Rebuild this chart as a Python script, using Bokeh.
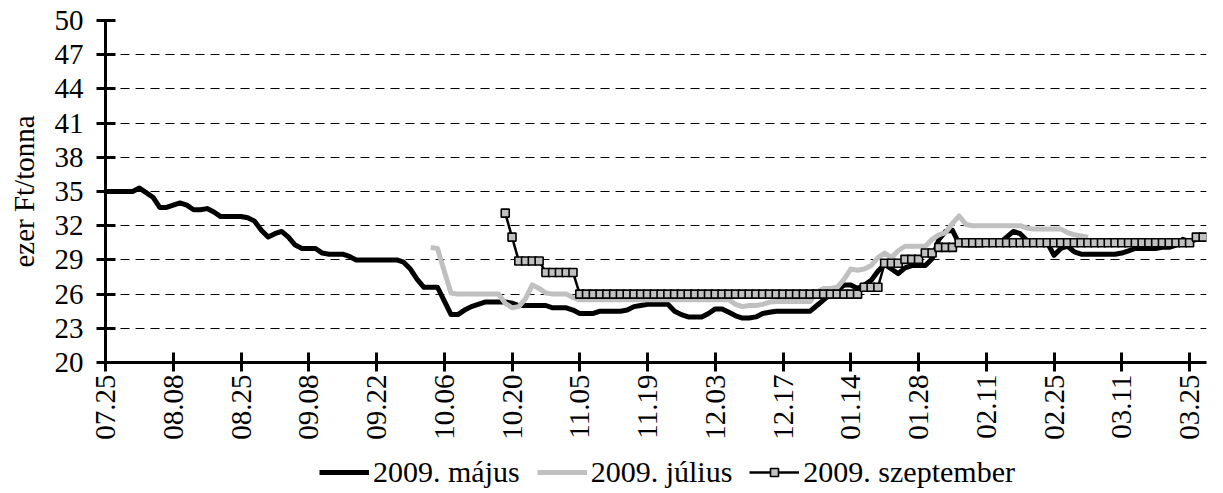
from math import pi
from bokeh.plotting import figure
from bokeh.layouts import column
from bokeh.models import Range1d, FixedTicker, Legend, LegendItem
from bokeh.embed import file_html
from bokeh.resources import INLINE

# x positions are trading-day indices; a label every 10 trading days
tick_positions = [0, 10, 20, 30, 40, 50, 60, 70, 80, 90, 100, 110, 120, 130, 140, 150, 160]
tick_labels = ["07.25", "08.08", "08.25", "09.08", "09.22", "10.06", "10.20", "11.05", "11.19",
               "12.03", "12.17", "01.14", "01.28", "02.11", "02.25", "03.11", "03.25"]
y_ticks = [20, 23, 26, 29, 32, 35, 38, 41, 44, 47, 50]

names = ["2009. május", "2009. július", "2009. szeptember"]

majus_start = 0
majus = [35.0, 35.0, 35.0, 35.0, 35.0, 35.3, 34.9, 34.5, 33.6, 33.6,
         33.8, 34.0, 33.8, 33.4, 33.4, 33.5, 33.2, 32.8, 32.8, 32.8,
         32.8, 32.7, 32.4, 31.6, 31.0, 31.3, 31.5, 31.0, 30.3, 30.0,
         30.0, 30.0, 29.6, 29.5, 29.5, 29.5, 29.3, 29.0, 29.0, 29.0,
         29.0, 29.0, 29.0, 29.0, 28.8, 28.2, 27.3, 26.6, 26.6, 26.6,
         25.4, 24.2, 24.2, 24.6, 24.9, 25.1, 25.3, 25.3, 25.3, 25.3,
         25.2, 25.0, 25.0, 25.0, 25.0, 25.0, 24.8, 24.8, 24.8, 24.6,
         24.3, 24.3, 24.3, 24.5, 24.5, 24.5, 24.5, 24.6, 24.9, 25.0,
         25.1, 25.1, 25.1, 25.1, 24.5, 24.2, 24.0, 24.0, 24.0, 24.3,
         24.7, 24.7, 24.4, 24.1, 23.9, 23.9, 24.0, 24.3, 24.4, 24.5,
         24.5, 24.5, 24.5, 24.5, 24.5, 25.0, 25.5, 26.0, 26.3, 26.8,
         26.8, 26.5, 26.8, 27.2, 28.0, 28.6, 28.2, 27.8, 28.3, 28.5,
         28.5, 28.5, 29.1, 30.8, 31.5, 31.6, 30.4, 30.3, 30.3, 30.3,
         30.4, 30.5, 30.5, 31.0, 31.5, 31.3, 30.7, 30.5, 30.5, 30.5,
         29.4, 30.0, 30.2, 29.7, 29.5, 29.5, 29.5, 29.5, 29.5, 29.5,
         29.6, 29.8, 30.0, 30.0, 30.0, 30.0, 30.1, 30.1, 30.3, 30.8,
         30.6, 30.8, 31.0]

julius_start = 48
julius = [30.1, 30.0, 28.0, 26.1, 26.0, 26.0, 26.0, 26.0, 26.0, 26.0,
          26.0, 25.2, 24.8, 24.9, 25.6, 26.8, 26.5, 26.1, 26.0, 26.0,
          26.0, 25.7, 25.5, 25.5, 25.5, 25.5, 25.5, 25.5, 25.5, 25.5,
          25.5, 25.5, 25.5, 25.5, 25.5, 25.5, 25.5, 25.5, 25.5, 25.5,
          25.5, 25.5, 25.5, 25.5, 25.5, 25.1, 24.9, 25.0, 25.0, 25.1,
          25.3, 25.35, 25.35, 25.35, 25.35, 25.35, 25.35, 26.2, 26.5, 26.5,
          26.6, 27.3, 28.2, 28.1, 28.2, 28.5, 29.2, 29.6, 29.2, 29.8,
          30.2, 30.2, 30.2, 30.2, 30.8, 31.2, 31.4, 32.2, 32.85, 32.1,
          32.0, 32.0, 32.0, 32.0, 32.0, 32.0, 32.0, 32.0, 31.8, 31.7,
          31.7, 31.7, 31.7, 31.7, 31.4, 31.2, 31.1, 31.0]

szept_start = 59
szept = [33.1, 31.0, 28.9, 28.9, 28.9, 28.9, 27.9, 27.9, 27.9, 27.9,
         27.9, 26.0, 26.0, 26.0, 26.0, 26.0, 26.0, 26.0, 26.0, 26.0,
         26.0, 26.0, 26.0, 26.0, 26.0, 26.0, 26.0, 26.0, 26.0, 26.0,
         26.0, 26.0, 26.0, 26.0, 26.0, 26.0, 26.0, 26.0, 26.0, 26.0,
         26.0, 26.0, 26.0, 26.0, 26.0, 26.0, 26.0, 26.0, 26.0, 26.0,
         26.0, 26.0, 26.0, 26.6, 26.6, 26.6, 28.7, 28.7, 28.7, 29.05,
         29.05, 29.05, 29.6, 29.6, 30.1, 30.1, 30.1, 30.5, 30.5, 30.5,
         30.5, 30.5, 30.5, 30.5, 30.5, 30.5, 30.5, 30.5, 30.5, 30.5,
         30.5, 30.5, 30.5, 30.5, 30.5, 30.5, 30.5, 30.5, 30.5, 30.5,
         30.5, 30.5, 30.5, 30.5, 30.5, 30.5, 30.5, 30.5, 30.5, 30.5,
         30.5, 30.5, 31.0, 31.0]

FONT = "Liberation Serif"
FS = "29px"

BLACK_STYLE = dict(line_color="black", line_width=5, line_join="round")
GRAY_STYLE = dict(line_color="#C0C0C0", line_width=5, line_join="round")
SEPT_LINE = dict(line_color="black", line_width=2.5)
SEPT_MARK = dict(marker="square", size=8, fill_color="#C0C0C0", line_color="black", line_width=1.6)

xm = list(range(majus_start, majus_start + len(majus)))
xj = list(range(julius_start, julius_start + len(julius)))
xs = list(range(szept_start, szept_start + len(szept)))

p = figure(width=1223, height=450,
           x_range=Range1d(0, 162.5), y_range=Range1d(20, 50),
           output_backend="svg", toolbar_location=None,
           min_border_left=105, min_border_right=17, min_border_top=20, min_border_bottom=88)
p.outline_line_color = None
p.background_fill_color = "white"

p.xaxis.ticker = FixedTicker(ticks=tick_positions)
p.xaxis.major_label_overrides = {t: l for t, l in zip(tick_positions, tick_labels)}
p.xaxis.major_label_orientation = pi / 2
p.yaxis.ticker = FixedTicker(ticks=y_ticks)
p.yaxis.axis_label = "ezer Ft/tonna"
for ax in (p.xaxis, p.yaxis):
    ax.axis_line_width = 3
    ax.axis_line_color = "black"
    ax.major_tick_line_width = 3
    ax.major_tick_line_color = "black"
    ax.major_tick_in = 10
    ax.major_tick_out = 9
    ax.minor_tick_line_color = None
    ax.major_label_text_font = FONT
    ax.major_label_text_font_size = FS
    ax.major_label_text_color = "black"
    ax.axis_label_text_font = FONT
    ax.axis_label_text_font_size = FS
    ax.axis_label_text_font_style = "normal"
    ax.axis_label_text_color = "black"
p.yaxis.major_label_standoff = 13
p.yaxis.axis_label_standoff = 12
p.xaxis.major_label_standoff = 3

p.xgrid.grid_line_color = None
p.ygrid.grid_line_color = "black"
p.ygrid.grid_line_width = 1
p.ygrid.grid_line_dash = "9 6"

p.line(xm, majus, **BLACK_STYLE)
p.line(xj, julius, **GRAY_STYLE)
p.line(xs, szept, **SEPT_LINE)
p.scatter(xs, szept, **SEPT_MARK)

# legend strip under the chart (same series, drawn outside this strip's visible range)
lg = figure(width=1223, height=42, x_range=Range1d(-20, -19), y_range=Range1d(0, 1),
            output_backend="svg", toolbar_location=None, min_border=0,
            x_axis_location=None, y_axis_location=None)
lg.grid.visible = False
lg.outline_line_color = None
l1 = lg.line(xm, majus, **BLACK_STYLE)
l2 = lg.line(xj, julius, **GRAY_STYLE)
l3 = lg.line(xs, szept, **SEPT_LINE)
l4 = lg.scatter(xs, szept, **SEPT_MARK)
legend = Legend(items=[LegendItem(label=names[0], renderers=[l1]),
                       LegendItem(label=names[1], renderers=[l2]),
                       LegendItem(label=names[2], renderers=[l3, l4])],
                orientation="horizontal", location=(214, 3),
                label_text_font=FONT, label_text_font_size="30px",
                label_text_color="black", label_text_baseline="middle",
                glyph_width=50, glyph_height=20, label_standoff=4, spacing=17,
                padding=0, margin=0, border_line_color=None,
                background_fill_alpha=0)
lg.add_layout(legend)

layout = column(p, lg, spacing=0)
open("out.html", "w").write(file_html(layout, INLINE))
